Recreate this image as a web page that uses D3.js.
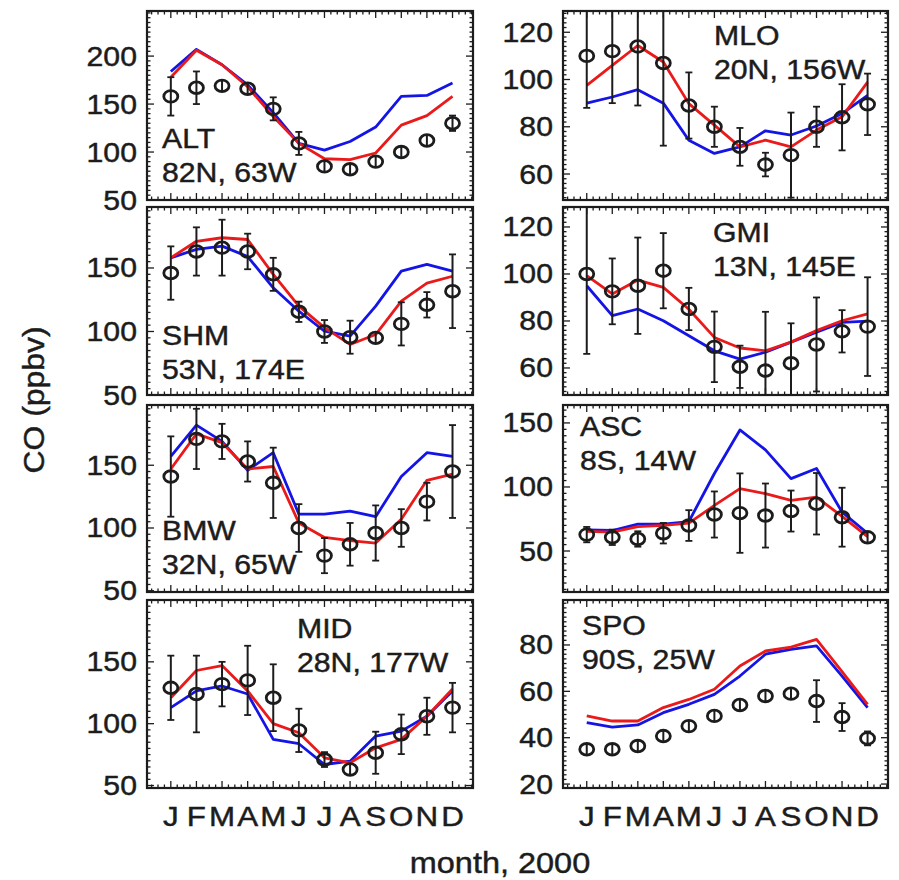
<!DOCTYPE html>
<html>
<head>
<meta charset="utf-8">
<script src="https://cdn.jsdelivr.net/npm/d3@7"></script>
<style>
  html, body { margin: 0; padding: 0; background: #fff; }
  svg { display: block; font-family: "Liberation Sans", Arial, sans-serif; }
</style>
</head>
<body>
<svg id="chart" width="899" height="880"></svg>
<script>
// ---------- data ----------
const MONTHS = ["J", "F", "M", "A", "M", "J", "J", "A", "S", "O", "N", "D"];
const STATIONS = ["ALT", "MLO", "SHM", "GMI", "BMW", "ASC", "MID", "SPO"];
const COORDS = ["82N, 63W", "20N, 156W", "53N, 174E", "13N, 145E", "32N, 65W", "8S, 14W", "28N, 177W", "90S, 25W"];

const ALT_OBS = [158, 167, 169, 166, 145, 109, 85, 82, 90, 100, 112, 130];
const ALT_ERR = [20, 17, 5, 5, 12, 12, 4, 5, 4, 3, 5, 8];
const ALT_BLUE = [184, 207, 191, 170, 141, 109, 102, 111, 126, 158, 159, 172];
const ALT_RED = [178, 206, 191, 168, 137, 109, 93, 92, 99, 128, 138, 158];

const MLO_OBS = [110, 112, 114, 107, 89, 80, 71.5, 64, 68, 80, 84, 89.5];
const MLO_ERR = [22, 22, 25, 35, 14, 8.5, 8, 5, 18, 8.5, 14, 13];
const MLO_BLUE = [90, 92.6, 95.7, 90, 74.3, 68.7, 71.5, 78.3, 76.5, 80.3, 85.6, 93.3];
const MLO_RED = [97.5, 106, 114.4, 107.4, 89.8, 80.7, 71.5, 74.3, 71.5, 78.6, 84.2, 98.9];

const SHM_OBS = [146, 163, 166, 163, 145, 115.5, 100, 95.5, 95, 106, 121, 131.7];
const SHM_ERR = [21, 19, 22, 14, 13, 8, 9, 13, 3, 17, 10, 29];
const SHM_BLUE = [158, 164.6, 167.2, 159, 134.4, 116, 100.2, 96.3, 120, 147.5, 152.8, 147.5];
const SHM_RED = [158, 171, 173.8, 172.4, 145, 120, 103, 89.8, 97.6, 123.9, 138, 143.5];

const GMI_OBS = [100, 92.6, 95, 101.4, 85.1, 69, 60.5, 58.9, 62, 70, 75.6, 77.6];
const GMI_ERR = [34, 14, 20.5, 16, 9, 15, 9, 25, 17, 20, 9, 21];
const GMI_BLUE = [95, 82.3, 85.1, 80.1, 73.7, 67.3, 63.8, 66.7, 71, 75.2, 79.4, 79.9];
const GMI_RED = [99.3, 91.5, 97.4, 94.3, 85, 73, 68.5, 67.3, 71, 75.9, 80.1, 83];

const BMW_OBS = [141, 171, 169, 153, 136, 100, 78, 87, 96, 100, 121, 145];
const BMW_ERR = [32, 24, 14, 16, 28, 19, 14, 17, 22, 15, 15, 37];
const BMW_BLUE = [157, 182, 169, 146, 160, 111, 111, 113.5, 109, 141, 160, 157];
const BMW_RED = [147, 175, 168, 147, 149, 104, 92.5, 90, 88, 107, 138, 143];

const ASC_OBS = [62.8, 60.7, 59.4, 63.9, 69.9, 78.5, 79.6, 77.7, 81.2, 86.9, 76.4, 60.7];
const ASC_ERR = [6, 6, 6, 8, 12, 18, 31, 25, 16, 24, 23, 5];
const ASC_BLUE = [66.5, 66, 71, 71, 73, 110.5, 144.5, 129, 106.5, 114.4, 80.4, 63.9];
const ASC_RED = [65.4, 64.7, 69, 70, 71.7, 85.6, 98.7, 94.8, 89.5, 92.1, 77, 61.3];

const MID_OBS = [129, 124, 132, 135, 121, 94.6, 71, 63, 76.5, 91.4, 106, 113];
const MID_ERR = [26, 31, 18, 28, 27, 17.5, 6, 5, 17, 16, 15, 20];
const MID_BLUE = [113, 126.5, 130.5, 124, 87.3, 83.8, 67, 69.7, 90, 94, 106, 126.5];
const MID_RED = [121, 143, 147, 126.5, 100, 92.7, 72.4, 68.4, 80.5, 87.3, 106, 128];

const SPO_OBS = [35, 35, 36.4, 40.7, 45, 49.4, 54.1, 58, 59, 55.8, 48.9, 39.7];
const SPO_ERR = [2, 2, 2, 2, 2, 2, 2, 2, 2, 9, 6, 3];
const SPO_BLUE = [46.5, 44.6, 45.5, 50.8, 54.4, 58.7, 66.6, 76, 78.1, 79.6, 66.6, 53];
const SPO_RED = [49.4, 47.2, 47.2, 53, 56.5, 60.9, 70.9, 77.4, 79.1, 82.4, 68.5, 54.4];

// y ranges and tick labels per panel
const Y_DOMAINS = [[50, 247], [49, 129], [50, 198], [48.5, 128.5], [49, 198], [18, 164], [48, 200], [18.3, 99.4]];
const Y_TICKS = [[50, 100, 150, 200], [60, 80, 100, 120], [50, 100, 150], [60, 80, 100, 120],
                 [50, 100, 150], [50, 100, 150], [50, 100, 150], [20, 40, 60, 80]];
const Y_MINOR = [5, 2, 5, 2, 5, 5, 5, 2];

const SERIES = [
  [ALT_OBS, ALT_ERR, ALT_BLUE, ALT_RED],
  [MLO_OBS, MLO_ERR, MLO_BLUE, MLO_RED],
  [SHM_OBS, SHM_ERR, SHM_BLUE, SHM_RED],
  [GMI_OBS, GMI_ERR, GMI_BLUE, GMI_RED],
  [BMW_OBS, BMW_ERR, BMW_BLUE, BMW_RED],
  [ASC_OBS, ASC_ERR, ASC_BLUE, ASC_RED],
  [MID_OBS, MID_ERR, MID_BLUE, MID_RED],
  [SPO_OBS, SPO_ERR, SPO_BLUE, SPO_RED]
];

// ---------- layout ----------
const svg = d3.select("#chart");
const COLS = [[147, 473], [563, 888]];
const ROWS = [[11, 200], [207, 395], [405, 592], [600, 788]];
// label anchors, per panel (x, first baseline)
const LABEL_POS = [[162, 148], [714, 45], [162, 345], [713, 242], [162, 540], [580, 436], [297, 638], [582, 635]];
const INK = "#1c1c1c";
const BLUE = "#1414e6";
const RED = "#ea1a1a";
const FS = 27, SX = 1.12;

// stretched text helper (the original glyphs are wide)
function wideText(g, x, y, str, anchor, size) {
  return g.append("text")
    .attr("transform", `translate(${x},${y}) scale(${SX},1)`)
    .attr("text-anchor", anchor || "start")
    .attr("font-size", size || FS)
    .attr("fill", INK)
    .attr("stroke", INK).attr("stroke-width", 0.45)
    .text(str);
}

STATIONS.forEach((name, i) => {
  const col = COLS[i % 2], row = ROWS[Math.floor(i / 2)];
  const [obs, err, blue, red] = SERIES[i];
  const x = d3.scaleLinear().domain([-0.93, 11.8]).range(col);
  const y = d3.scaleLinear().domain(Y_DOMAINS[i]).range([row[1], row[0]]);
  const g = svg.append("g");

  // clip to the frame
  const clipId = "clip" + i;
  svg.append("clipPath").attr("id", clipId).append("rect")
    .attr("x", col[0]).attr("y", row[0]).attr("width", col[1] - col[0]).attr("height", row[1] - row[0]);
  const plot = g.append("g").attr("clip-path", `url(#${clipId})`);

  // model lines
  const line = d3.line().x((d, k) => x(k)).y(d => y(d));
  plot.append("path").datum(blue).attr("d", line)
    .attr("fill", "none").attr("stroke", BLUE).attr("stroke-width", 2.8).attr("stroke-linejoin", "round");
  plot.append("path").datum(red).attr("d", line)
    .attr("fill", "none").attr("stroke", RED).attr("stroke-width", 2.8).attr("stroke-linejoin", "round");

  // observations with error bars
  const rx = 7, ry = 5.8;
  obs.forEach((v, k) => {
    const cx = x(k), cy = y(v);
    const yTop = Math.min(y(v + err[k]), cy - ry);
    const yBot = Math.max(y(v - err[k]), cy + ry);
    plot.append("line").attr("x1", cx).attr("x2", cx).attr("y1", yTop).attr("y2", yBot)
      .attr("stroke", INK).attr("stroke-width", 2);
    if (y(v + err[k]) < cy - ry - 1) {
      plot.append("line").attr("x1", cx - 3.5).attr("x2", cx + 3.5).attr("y1", yTop).attr("y2", yTop)
        .attr("stroke", INK).attr("stroke-width", 1.8);
      plot.append("line").attr("x1", cx - 3.5).attr("x2", cx + 3.5).attr("y1", yBot).attr("y2", yBot)
        .attr("stroke", INK).attr("stroke-width", 1.8);
    }
    plot.append("ellipse").attr("cx", cx).attr("cy", cy).attr("rx", rx).attr("ry", ry)
      .attr("fill", "none").attr("stroke", INK).attr("stroke-width", 2.8);
  });

  // ticks on all four sides, pointing inward
  const yMaj = Y_TICKS[i];
  const step = Y_MINOR[i];
  const yMin = d3.range(Math.ceil(Y_DOMAINS[i][0] / step) * step, Y_DOMAINS[i][1], step);
  const tickG = g.append("g").attr("stroke", INK).attr("stroke-width", 1.3);
  yMin.forEach(v => {
    const major = yMaj.includes(v) || v % (yMaj[1] - yMaj[0]) === 0;
    const len = major ? 7 : 3.5;
    tickG.append("line").attr("x1", col[0]).attr("x2", col[0] + len).attr("y1", y(v)).attr("y2", y(v));
    tickG.append("line").attr("x1", col[1]).attr("x2", col[1] - len).attr("y1", y(v)).attr("y2", y(v));
  });
  const xMin = d3.range(-0.75, 11.8, 0.25);
  xMin.forEach(m => {
    const major = Math.abs(m - Math.round(m)) < 1e-6;
    const len = major ? 7 : 3.5;
    tickG.append("line").attr("x1", x(m)).attr("x2", x(m)).attr("y1", row[1]).attr("y2", row[1] - len);
    tickG.append("line").attr("x1", x(m)).attr("x2", x(m)).attr("y1", row[0]).attr("y2", row[0] + len);
  });

  // frame
  g.append("rect").attr("x", col[0]).attr("y", row[0])
    .attr("width", col[1] - col[0]).attr("height", row[1] - row[0])
    .attr("fill", "none").attr("stroke", INK).attr("stroke-width", 2.2);

  // y tick labels
  yMaj.forEach(v => {
    wideText(g, col[0] - 10, y(v) + 9.5, String(v), "end");
  });

  // station label
  const [lx, ly] = LABEL_POS[i];
  wideText(g, lx, ly, name, "start");
  wideText(g, lx, ly + 34, COORDS[i], "start");

  // month labels under the bottom row
  if (Math.floor(i / 2) === 3) {
    MONTHS.forEach((m, k) => wideText(g, x(k), row[1] + 38, m, "middle", 28));
  }
});

// axis titles
svg.append("text")
  .attr("transform", "translate(44,400) rotate(-90) scale(1.1,1)")
  .attr("text-anchor", "middle").attr("font-size", 29).attr("fill", INK)
  .attr("stroke", INK).attr("stroke-width", 0.45)
  .text("CO (ppbv)");
wideText(svg, 500, 873, "month, 2000", "middle", 29);
</script>
</body>
</html>
